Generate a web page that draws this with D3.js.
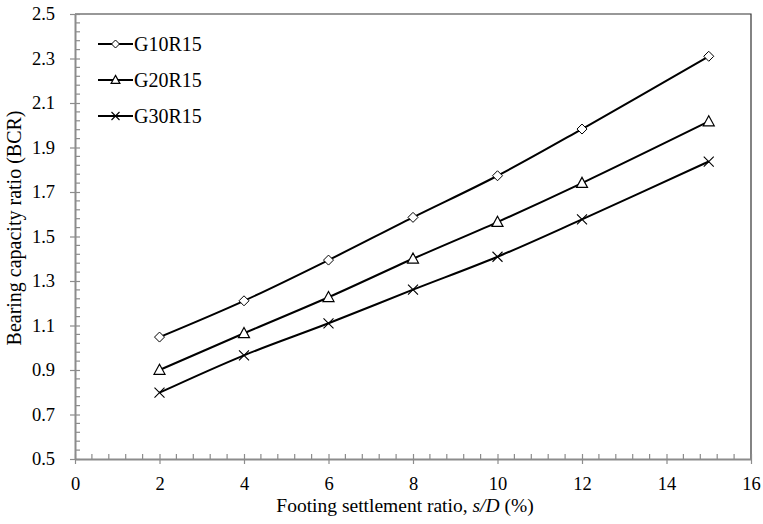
<!DOCTYPE html>
<html>
<head>
<meta charset="utf-8">
<script src="https://cdn.jsdelivr.net/npm/d3@7"></script>
<style>
  html, body { margin: 0; padding: 0; background: #fff; }
  svg { display: block; }
  svg text { font-family: "Liberation Serif", "Times New Roman", serif; fill: #000; }
</style>
</head>
<body>
<svg id="chart" width="763" height="524"></svg>
<script>
// Settlement ratios s/D (%)
const settlement = [2, 4, 6, 8, 10, 12, 15];
// Bearing capacity ratio for each geogrid configuration
const bcrG10R15 = [1.048, 1.211, 1.394, 1.586, 1.773, 1.983, 2.31];
const bcrG20R15 = [0.900, 1.065, 1.227, 1.400, 1.565, 1.740, 2.017];
const bcrG30R15 = [0.798, 0.966, 1.110, 1.261, 1.409, 1.577, 1.837];
const seriesNames = ["G10R15", "G20R15", "G30R15"];
const markerKinds = ["diamond", "triangle", "cross"];
const xTicks = [0, 2, 4, 6, 8, 10, 12, 14, 16];
const yTicks = [0.5, 0.7, 0.9, 1.1, 1.3, 1.5, 1.7, 1.9, 2.1, 2.3, 2.5];

const svg = d3.select("#chart");
const plot = { left: 75, right: 751, top: 14, bottom: 459 };
const serif = "'Liberation Serif', 'Times New Roman', serif";

const x = d3.scaleLinear().domain([0, 16]).range([plot.left, plot.right]);
const y = d3.scaleLinear().domain([0.5, 2.5]).range([plot.bottom, plot.top]);

const axisGray = "#8c8c8c";

// top and right frame
svg.append("path")
  .attr("d", `M${plot.left},${plot.top}H${plot.right}V${plot.bottom}`)
  .attr("fill", "none").attr("stroke", "#333").attr("stroke-width", 1.2);

// minor ticks (inside)
const xMinor = d3.range(0, 16.001, 0.4).filter(v => Math.abs(v / 2 - Math.round(v / 2)) > 1e-6);
const yMinor = d3.range(0.5, 2.5001, 0.04).filter(v => Math.abs((v - 0.5) / 0.2 - Math.round((v - 0.5) / 0.2)) > 1e-6);

svg.append("g").selectAll("line").data(xMinor).join("line")
  .attr("x1", d => x(d)).attr("x2", d => x(d))
  .attr("y1", plot.bottom).attr("y2", plot.bottom - 5)
  .attr("stroke", axisGray).attr("stroke-width", 1.2);
svg.append("g").selectAll("line").data(yMinor).join("line")
  .attr("x1", plot.left).attr("x2", plot.left + 5)
  .attr("y1", d => y(d)).attr("y2", d => y(d))
  .attr("stroke", axisGray).attr("stroke-width", 1.2);

// x axis
const xAxis = svg.append("g")
  .attr("transform", `translate(0,${plot.bottom})`)
  .call(d3.axisBottom(x).tickValues(xTicks).tickFormat(d3.format("d")).tickSize(5).tickSizeOuter(0));
xAxis.attr("font-family", null).attr("font-size", null);
xAxis.select(".domain").attr("stroke", axisGray).attr("stroke-width", 2);
xAxis.selectAll(".tick line").attr("stroke", axisGray).attr("stroke-width", 1.2).attr("y1", -5);
xAxis.selectAll(".tick text")
  .style("font-family", serif).style("font-size", "18.5px")
  .attr("dy", "0.71em").attr("y", 18);

// y axis
const yAxis = svg.append("g")
  .attr("transform", `translate(${plot.left},0)`)
  .call(d3.axisLeft(y).tickValues(yTicks).tickFormat(d3.format(".1f")).tickSize(5).tickSizeOuter(0));
yAxis.attr("font-family", null).attr("font-size", null);
yAxis.select(".domain").attr("stroke", axisGray).attr("stroke-width", 2);
yAxis.selectAll(".tick line").attr("stroke", axisGray).attr("stroke-width", 1.2).attr("x1", 5);
yAxis.selectAll(".tick text")
  .style("font-family", serif).style("font-size", "18.5px")
  .attr("x", -20);

// axis titles
const xTitle = svg.append("text")
  .attr("x", 405).attr("y", 512)
  .attr("text-anchor", "middle")
  .style("font-family", serif).style("font-size", "19.5px");
xTitle.append("tspan").text("Footing settlement ratio, ");
xTitle.append("tspan").attr("font-style", "italic").text("s/D");
xTitle.append("tspan").text(" (%)");

svg.append("text")
  .attr("transform", `translate(21,228) rotate(-90)`)
  .attr("text-anchor", "middle")
  .style("font-family", serif).style("font-size", "20px")
  .text("Bearing capacity ratio (BCR)");

// markers
function drawMarker(g, kind, cx, cy, s) {
  if (kind === "diamond") {
    g.append("path")
      .attr("d", `M${cx},${cy - s}L${cx + s},${cy}L${cx},${cy + s}L${cx - s},${cy}Z`)
      .attr("fill", "#fff").attr("stroke", "#000").attr("stroke-width", 1);
  } else if (kind === "triangle") {
    const h = s * 1.15;
    g.append("path")
      .attr("d", `M${cx},${cy - h}L${cx + s * 1.1},${cy + h * 0.75}L${cx - s * 1.1},${cy + h * 0.75}Z`)
      .attr("fill", "#fff").attr("stroke", "#000").attr("stroke-width", 1.2);
  } else {
    g.append("path")
      .attr("d", `M${cx - s},${cy - s}L${cx + s},${cy + s}M${cx - s},${cy + s}L${cx + s},${cy - s}`)
      .attr("fill", "none").attr("stroke", "#000").attr("stroke-width", 1.1);
  }
}

const allSeries = [bcrG10R15, bcrG20R15, bcrG30R15];
const line = d3.line()
  .x((d, i) => x(settlement[i]))
  .y(d => y(d))
  .curve(d3.curveCatmullRom.alpha(0.5));

allSeries.forEach((vals, k) => {
  svg.append("path")
    .datum(vals)
    .attr("d", line)
    .attr("fill", "none").attr("stroke", "#000").attr("stroke-width", 2);
  const g = svg.append("g");
  vals.forEach((v, i) => drawMarker(g, markerKinds[k], x(settlement[i]), y(v), 5));
});

// legend
const legendY = [44, 80, 116];
seriesNames.forEach((name, k) => {
  const g = svg.append("g");
  g.append("line")
    .attr("x1", 98).attr("x2", 133).attr("y1", legendY[k]).attr("y2", legendY[k])
    .attr("stroke", "#000").attr("stroke-width", 2);
  drawMarker(g, markerKinds[k], 115.5, legendY[k], 4);
  g.append("text")
    .attr("x", 134).attr("y", legendY[k]).attr("dy", "0.35em")
    .style("font-family", serif).style("font-size", "20px")
    .text(name);
});
</script>
</body>
</html>
